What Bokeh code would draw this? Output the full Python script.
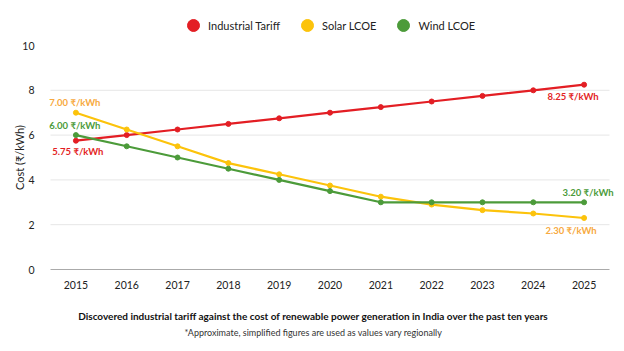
import math
from bokeh.plotting import figure
from bokeh.models import Legend, LegendItem, Label, ColumnDataSource, FixedTicker, Range1d
from bokeh.core.properties import value
from bokeh.embed import file_html
from bokeh.resources import INLINE

years = [2015, 2016, 2017, 2018, 2019, 2020, 2021, 2022, 2023, 2024, 2025]
industrial = [5.75, 6.0, 6.25, 6.5, 6.75, 7.0, 7.25, 7.5, 7.75, 8.0, 8.25]
solar = [7.0, 6.25, 5.5, 4.75, 4.25, 3.75, 3.25, 2.9, 2.65, 2.5, 2.3]
wind = [6.0, 5.5, 5.0, 4.5, 4.0, 3.5, 3.0, 3.0, 3.0, 3.0, 3.0]
y_ticks = [0, 2, 4, 6, 8, 10]
series_names = ["Industrial Tariff", "Solar LCOE", "Wind LCOE"]
colors = ["#e31e24", "#fcc30b", "#4c9b3a"]
label_colors = ["#e31e24", "#f7a940", "#4c9b3a"]

# end-point labels: (series index, point index, text, x_off, y_off)
end_labels = [
    (1, 0, "7.00 ₹/kWh", -1, -10),
    (2, 0, "6.00 ₹/kWh", -1, -10),
    (0, 0, "5.75 ₹/kWh", 2, 11),
    (0, 10, "8.25 ₹/kWh", -11, 12),
    (2, 10, "3.20 ₹/kWh", 4, -10),
    (1, 10, "2.30 ₹/kWh", -13, 13),
]
title_text = "Discovered industrial tariff against the cost of renewable power generation in India over the past ten years"
note_text = "*Approximate, simplified figures are used as values vary regionally"
y_label = "Cost (₹/kWh)"

FONT = "Lato"
W, H = 624, 351
PLOT_LEFT, PLOT_RIGHT = 50, 609          # pixel columns of the plot area edges
PLOT_TOP, PLOT_BOTTOM = 45, 269          # pixel rows of y=10 and y=0
x_lo, x_hi = years[0] - 0.5, years[-1] + 0.5
y_lo, y_hi = y_ticks[0], y_ticks[-1]
ppx = (PLOT_RIGHT - PLOT_LEFT) / (x_hi - x_lo)
ppy = (PLOT_BOTTOM - PLOT_TOP) / (y_hi - y_lo)

p = figure(width=W, height=H, output_backend="svg", toolbar_location=None,
           x_range=Range1d(x_lo - PLOT_LEFT / ppx, x_hi + (W - PLOT_RIGHT) / ppx),
           y_range=Range1d(y_lo - (H - PLOT_BOTTOM) / ppy, y_hi + PLOT_TOP / ppy),
           min_border_left=0, min_border_right=0, min_border_top=0, min_border_bottom=0)
p.title.visible = False
p.outline_line_color = None
p.background_fill_color = "white"
p.border_fill_color = "white"
p.xgrid.grid_line_color = None
p.ygrid.grid_line_color = None

# horizontal gridlines limited to the plot area
grid_y = y_ticks[1:-1]
p.segment(x0=[x_lo] * len(grid_y), x1=[x_hi] * len(grid_y), y0=grid_y, y1=grid_y,
          line_color="#e6e6e6", line_width=1)

series = [industrial, solar, wind]
items = []
for vals, name, c in zip(series, series_names, colors):
    p.line(years, vals, line_color=c, line_width=2.2)
    p.scatter(years, vals, size=5, fill_color=c, line_color=c)
    dummy = p.scatter([math.nan], [math.nan], size=12, fill_color=c, line_color=c, marker="circle")
    items.append(LegendItem(label=name, renderers=[dummy]))

legend = Legend(items=items, orientation="horizontal", location=(178, H - 40),
                border_line_color=None, background_fill_alpha=0,
                label_text_font=FONT, label_text_font_size="11px", label_text_color="#222222",
                glyph_width=30, glyph_height=30, spacing=12, padding=0, margin=0,
                label_standoff=-5, label_height=30)
p.add_layout(legend, "center")

for si, pi, txt, xo, yo in end_labels:
    src = ColumnDataSource(dict(x=[years[pi]], y=[series[si][pi]], t=[txt]))
    p.text(x="x", y="y", text="t", source=src, x_offset=xo, y_offset=yo,
           text_align="center", text_baseline="middle", text_font=value(FONT),
           text_font_style="bold", text_font_size="9.5px", text_color=label_colors[si])

p.xaxis.ticker = FixedTicker(ticks=years)
p.xaxis.fixed_location = y_lo
p.xaxis.bounds = (x_lo, x_hi)
p.yaxis.ticker = FixedTicker(ticks=y_ticks)
p.yaxis.fixed_location = x_lo
p.yaxis.bounds = (y_lo, y_hi)
for ax in (p.xaxis[0], p.yaxis[0]):
    ax.major_tick_line_color = None
    ax.minor_tick_line_color = None
    ax.major_label_text_font = FONT
    ax.major_label_text_font_size = "10.5px"
    ax.major_label_text_color = "#222222"
p.yaxis.axis_line_color = None
p.xaxis.axis_line_color = "#aaaaaa"
p.xaxis.major_label_standoff = 5
p.yaxis.major_label_standoff = 10

p.add_layout(Label(x=19, y=H - 157, x_units="screen", y_units="screen", text=y_label,
                   angle=math.pi / 2, text_align="center", text_baseline="middle",
                   text_font=FONT, text_font_size="11px", text_color="#222222"))
p.add_layout(Label(x=313, y=H - 315, x_units="screen", y_units="screen", text=title_text,
                   text_align="center", text_baseline="middle", text_font=FONT,
                   text_font_style="bold", text_font_size="10px", text_color="#111111"))
p.add_layout(Label(x=313, y=H - 332, x_units="screen", y_units="screen", text=note_text,
                   text_align="center", text_baseline="middle", text_font=FONT,
                   text_font_size="9px", text_color="#333333"))

open("out.html", "w").write(file_html(p, INLINE))
